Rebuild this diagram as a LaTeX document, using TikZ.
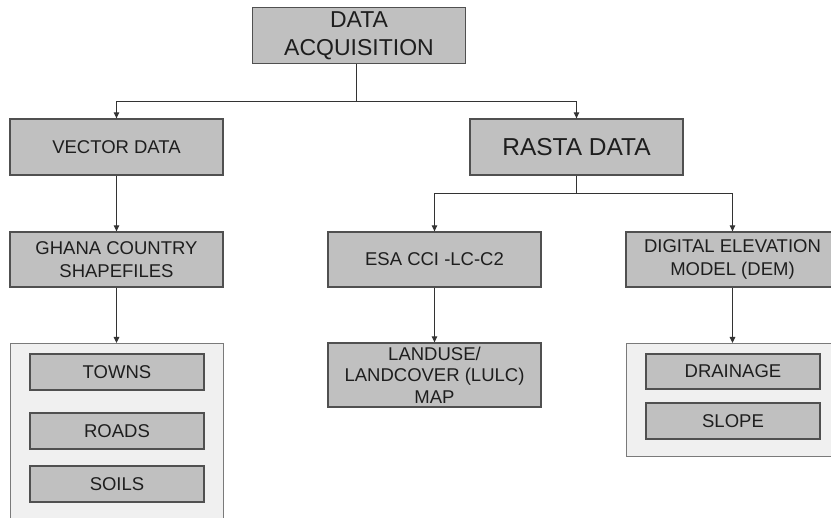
\documentclass[tikz,border=0pt]{standalone}
\usepackage{fontspec}
\setmainfont{Liberation Sans}
\usetikzlibrary{arrows.meta}
\definecolor{boxfill}{HTML}{C0C0C0}
\definecolor{boxline}{HTML}{505050}
\definecolor{contfill}{HTML}{F0F0F0}
\definecolor{contline}{HTML}{7A7A7A}
\definecolor{txt}{HTML}{1E1E1E}
\definecolor{conn}{HTML}{333333}
\tikzset{
  box/.style={draw=boxline, fill=boxfill, line width=1.3pt, inner sep=0pt, align=center,
    text=txt, font=\fontsize{18.5}{23.5}\selectfont, minimum width=213pt, minimum height=55pt},
  bigbox/.style={box, font=\fontsize{23}{28}\selectfont},
  itembox/.style={box, minimum width=174pt, minimum height=36pt},
  container/.style={draw=contline, fill=contfill, line width=1pt, inner sep=0pt, minimum width=213pt},
  conline/.style={draw=conn, line width=1pt, -{Triangle[length=6pt,width=5.5pt]}}
}
\begin{document}
\begin{tikzpicture}[x=1pt,y=-1pt]
\useasboundingbox (0,0) rectangle (831,518);
\clip (0,0) rectangle (831,518);
\fill[white] (0,0) rectangle (831,518);
% top
\node[bigbox, minimum height=56pt] (acq) at (359,35.5) {DATA\\ACQUISITION};
\node[box, minimum height=56pt] (vec) at (116.5,147) {VECTOR DATA};
\node[bigbox, minimum height=56pt, font=\fontsize{24.5}{29}\selectfont] (ras) at (576.5,147) {RASTA DATA};
% row 2
\node[box] (gha) at (116.5,259.5) {GHANA COUNTRY\\SHAPEFILES};
\node[box] (esa) at (434.5,259.5) {ESA CCI -LC-C2};
\node[box] (dem) at (732.5,259.5) {DIGITAL ELEVATION\\MODEL (DEM)};
% row 3
\node[container, minimum height=190pt, anchor=north] (lcont) at (116.5,343) {};
\node[itembox] (towns) at (117,372) {TOWNS};
\node[itembox] (roads) at (117,431) {ROADS};
\node[itembox] (soils) at (117,484) {SOILS};
\node[box, minimum height=64pt, font=\fontsize{18.5}{21.5}\selectfont] (lulc) at (434.5,375) {LANDUSE/\\LANDCOVER (LULC)\\MAP};
\node[container, minimum height=113pt, anchor=north] (rcont) at (732.5,343) {};
\node[itembox, minimum height=35pt] (drain) at (733,371.5) {DRAINAGE};
\node[itembox] (slope) at (733,421) {SLOPE};
% connectors
\coordinate (top) at (356,102);
\draw[draw=conn, line width=1pt] ([xshift=-3pt]acq.south) -- (top);
\draw[conline] (top) -| (vec.north);
\draw[conline] (top) -| (ras.north);
\draw[conline] (vec.south) -- (gha.north);
\coordinate (rmid) at (576.5,194);
\draw[draw=conn, line width=1pt] (ras.south) -- (rmid);
\draw[conline] (rmid) -| (esa.north);
\draw[conline] (rmid) -| (dem.north);
\draw[conline] (gha.south) -- (lcont.north);
\draw[conline] (esa.south) -- (lulc.north);
\draw[conline] (dem.south) -- (rcont.north);
\end{tikzpicture}
\end{document}
